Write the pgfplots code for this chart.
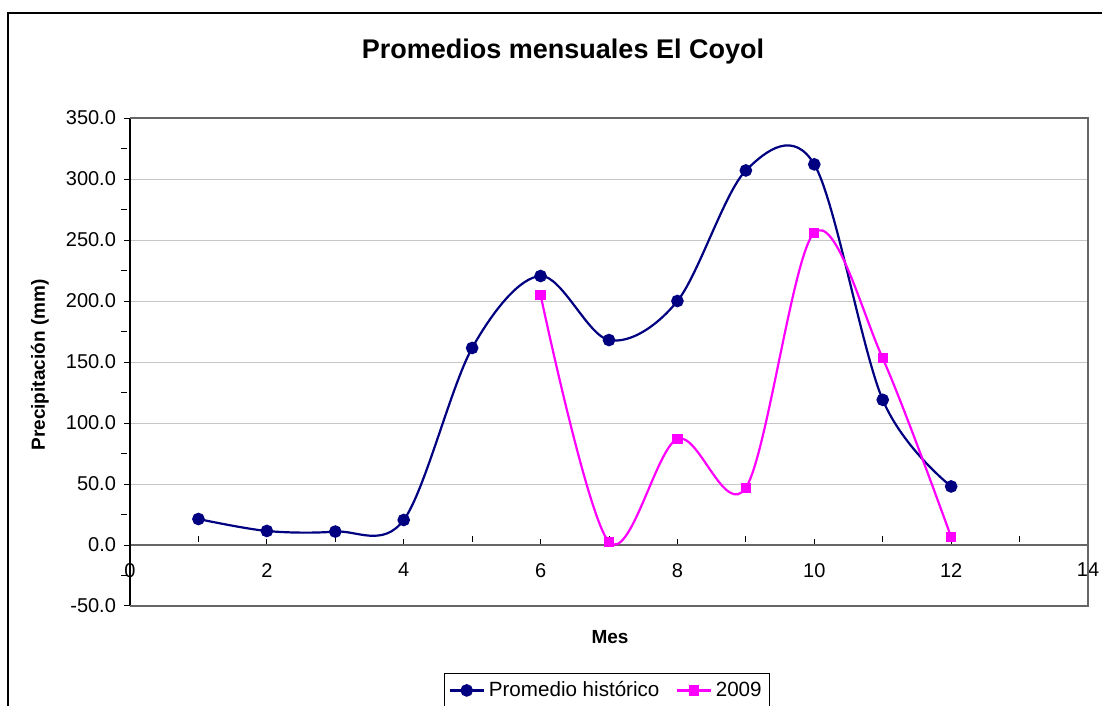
\documentclass[border=0pt]{standalone}
\usepackage{pgfplots}
\pgfplotsset{compat=1.18}
\usepackage{fontspec}
\setmainfont{Liberation Sans}
\definecolor{navy}{RGB}{0,0,128}
\definecolor{mag}{RGB}{255,0,255}
\begin{document}
\begin{tikzpicture}
\useasboundingbox (0,0) rectangle (551pt,353pt);
\draw[line width=0.6pt] (4pt,-20pt) -- (4pt,346.5pt) -- (570pt,346.5pt);
\node[font=\fontsize{13.5}{16}\selectfont\bfseries] at (281.5pt,327pt) {Promedios mensuales El Coyol};
\node[font=\fontsize{9.5}{11}\selectfont\bfseries] at (305pt,34.5pt) {Mes};
\node[font=\fontsize{9.5}{11}\selectfont\bfseries, rotate=90] at (20pt,170.5pt) {Precipitación (mm)};
\begin{axis}[
    at={(65pt,50pt)}, anchor=south west,
    width=479pt, height=244pt, scale only axis,
    xmin=0, xmax=14, ymin=-50, ymax=350,
    axis x line=middle, axis y line=left,
    hide obscured x ticks=false, hide obscured y ticks=false,
    x axis line style={gray!80!black, line width=0.8pt, -},
    y axis line style={black, line width=0.6pt, -},
    xtick={0,2,...,14}, minor xtick={1,3,...,13},
    ytick={-50,0,...,350}, minor ytick={-25,25,...,325},
    tick align=center, major tick length=3pt, minor tick length=3pt,
    xtick style={black, line width=0.5pt, yshift=1.5pt},
    ytick style={black, line width=0.5pt, xshift=-1.5pt},
    minor x tick style={yshift=1.5pt},
    minor y tick style={xshift=-1.5pt},
    ymajorgrids, grid style={gray!45, line width=0.4pt},
    yticklabel style={/pgf/number format/fixed, /pgf/number format/fixed zerofill,
        /pgf/number format/precision=1, /pgf/number format/1000 sep={}, xshift=-2pt},
    /pgf/number format/assume math mode=true,
    ticklabel style={font=\fontsize{10}{12}\selectfont},
    xticklabel style={yshift=-4pt},
    legend style={at={(0.498,-0.137)}, anchor=north, draw=black, line width=0.5pt,
        font=\fontsize{10.3}{12}\selectfont, legend columns=2,
        /tikz/every even column/.append style={column sep=6pt},
        inner sep=2pt},
    legend cell align=left,
    clip=false,
]
\draw[gray!80!black, line width=0.8pt] (rel axis cs:0,1) -- (rel axis cs:1,1) -- (rel axis cs:1,0) -- (rel axis cs:0,0);
\addplot[navy, line width=1.1pt, smooth, tension=0.55, mark=*, mark size=2.6pt, mark options={fill=navy}] coordinates {
    (1,21.3) (2,11.5) (3,11) (4,20.5) (5,161.5) (6,220.5)
    (7,168) (8,200) (9,307) (10,312) (11,119) (12,48)
};
\addlegendentry{Promedio histórico}
\addplot[mag, line width=1.1pt, smooth, tension=0.55, mark=square*, mark size=2pt, mark options={fill=mag}] coordinates {
    (6,205) (7,2.5) (8,87) (9,47) (10,256) (11,153) (12,6.5)
};
\addlegendentry{2009}
\end{axis}
\end{tikzpicture}
\end{document}
